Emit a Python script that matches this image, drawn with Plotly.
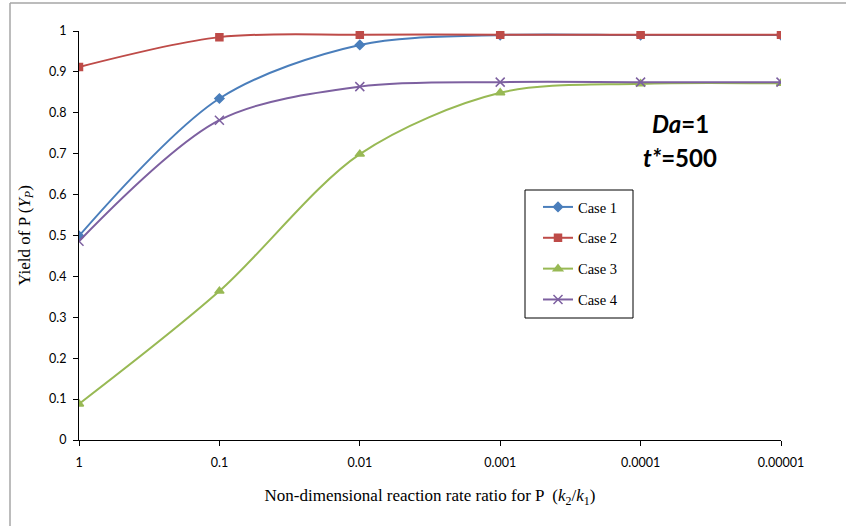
import plotly.graph_objects as go

# Rate ratio categories (k2/k1), evenly spaced on the axis
ratio_labels = ["1", "0.1", "0.01", "0.001", "0.0001", "0.00001"]
yield_ticks = [0, 0.1, 0.2, 0.3, 0.4, 0.5, 0.6, 0.7, 0.8, 0.9, 1]
yield_tick_labels = ["0", "0.1", "0.2", "0.3", "0.4", "0.5", "0.6", "0.7", "0.8", "0.9", "1"]

# Yield of P for each case
case1 = [0.499, 0.835, 0.966, 0.990, 0.990, 0.990]
case2 = [0.912, 0.985, 0.991, 0.991, 0.991, 0.991]
case3 = [0.088, 0.364, 0.699, 0.849, 0.871, 0.872]
case4 = [0.486, 0.782, 0.864, 0.875, 0.875, 0.875]

series = [
    ("Case 1", case1, "#4A7EBB", "diamond", 7),
    ("Case 2", case2, "#BE4B48", "square", 7),
    ("Case 3", case3, "#98B954", "triangle-up", 8),
    ("Case 4", case4, "#7D60A0", "x-thin", 9),
]

xpos = list(range(len(ratio_labels)))

fig = go.Figure()
for i, (name, vals, color, sym, size) in enumerate(series):
    fig.add_trace(go.Scatter(
        x=xpos, y=vals, name=name, mode="lines+markers",
        legendgroup=str(i),
        line=dict(color=color, width=2, shape="spline", smoothing=0.9),
        marker=dict(symbol=sym, size=size, color=color,
                    line=dict(color=color, width=1.5)),
    ))

tick_font = dict(family="Lato, Liberation Sans, sans-serif", size=12.5, color="#000000")
title_font = dict(family="Liberation Serif, Times New Roman, serif", size=17, color="#000000")
note_font = dict(family="Lato, Open Sans, sans-serif", size=24, color="#000000")

# plot area: x 79..781 px, y 31..440 px
def px_x(p):
    return (p - 79) / 702

def px_y(p):
    return (440 - p) / 409

fig.update_layout(
    width=846, height=526,
    margin=dict(l=79, r=65, t=31, b=86, autoexpand=False),
    paper_bgcolor="white", plot_bgcolor="white",
    showlegend=True,
    legend=dict(
        x=px_x(538), y=px_y(191), xanchor="left", yanchor="top",
        bgcolor="rgba(0,0,0,0)", borderwidth=0,
        font=dict(family="Liberation Serif, Times New Roman, serif", size=14.5, color="#000000"),
        tracegroupgap=9, itemwidth=30,
    ),
    xaxis=dict(
        range=[0, 5], tickmode="array", tickvals=xpos, ticktext=ratio_labels,
        showline=True, linecolor="#000000", linewidth=1,
        ticks="outside", ticklen=5, tickcolor="#000000", ticklabelstandoff=6,
        showgrid=False, zeroline=False, tickfont=tick_font, automargin=False,
        title=dict(text="Non-dimensional reaction rate ratio for P  (<i>k</i><sub>2</sub>/<i>k</i><sub>1</sub>)",
                   font=title_font, standoff=20),
    ),
    yaxis=dict(
        range=[0, 1], tickmode="array", tickvals=yield_ticks, ticktext=yield_tick_labels,
        showline=True, linecolor="#000000", linewidth=1,
        ticks="outside", ticklen=5, tickcolor="#000000", ticklabelstandoff=4,
        showgrid=False, zeroline=False, tickfont=tick_font, automargin=False,
        title=dict(text="Yield of P (<i>Y</i><sub><i>P</i></sub>)", font=title_font, standoff=14),
    ),
    annotations=[
        dict(x=px_x(711), y=px_y(107), xref="paper", yref="paper",
             text="<b><i>Da</i>=1</b>", showarrow=False, font=note_font),
        dict(x=px_x(719), y=px_y(141), xref="paper", yref="paper",
             text="<b><i>t*</i>=500</b>", showarrow=False, font=note_font),
    ],
    shapes=[
        # legend frame
        dict(type="rect", xref="paper", yref="paper",
             x0=px_x(525), x1=px_x(633), y0=px_y(190), y1=px_y(318),
             line=dict(color="#000000", width=1), fillcolor="white", layer="above"),
        # chart frame (top and left edges)
        dict(type="line", xref="paper", yref="paper",
             x0=px_x(10), x1=px_x(846), y0=px_y(3), y1=px_y(3),
             line=dict(color="#A6A6A6", width=1.5)),
        dict(type="line", xref="paper", yref="paper",
             x0=px_x(10), x1=px_x(10), y0=px_y(3), y1=px_y(526),
             line=dict(color="#A6A6A6", width=1.5)),
    ],
)

fig.write_html("out.html")
